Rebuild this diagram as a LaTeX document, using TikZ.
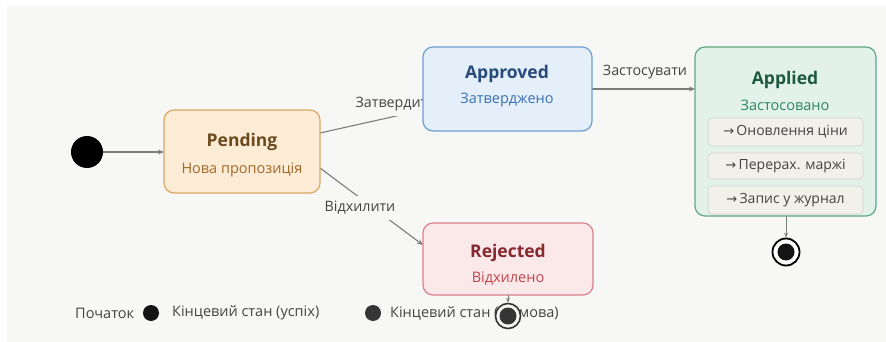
\documentclass[tikz,border=0pt]{standalone}
\usepackage{fontspec}
\setmainfont{Open Sans}
\newfontfamily\symfont{DejaVu Sans}
\usetikzlibrary{arrows.meta}

\definecolor{canvas}{HTML}{F7F7F5}
\definecolor{edgegrey}{HTML}{7C7C7C}
\definecolor{labelgrey}{HTML}{444444}
\definecolor{penfill}{HTML}{FCEBD5}
\definecolor{penline}{HTML}{D9A865}
\definecolor{pentitle}{HTML}{6B4A1F}
\definecolor{pensub}{HTML}{A0692A}
\definecolor{appfill}{HTML}{E5EFFA}
\definecolor{appline}{HTML}{6D9FD6}
\definecolor{apptitle}{HTML}{274A7A}
\definecolor{appsub}{HTML}{3B71B5}
\definecolor{dnfill}{HTML}{E2F2EA}
\definecolor{dnline}{HTML}{5EA886}
\definecolor{dntitle}{HTML}{1D5A3D}
\definecolor{dnsub}{HTML}{2B8462}
\definecolor{actfill}{HTML}{F1F0EB}
\definecolor{actline}{HTML}{DDDCD5}
\definecolor{rejfill}{HTML}{FBE8E9}
\definecolor{rejline}{HTML}{D9808A}
\definecolor{rejtitle}{HTML}{86282E}
\definecolor{rejsub}{HTML}{C2454F}
\definecolor{failgrey}{HTML}{353535}

\newcommand{\actarrow}{{\symfont\fontsize{13}{15}\selectfont →}\,}

\begin{document}
\begin{tikzpicture}[x=1pt,y=-1pt,
  title/.style={font=\bfseries\fontsize{17.5}{20}\selectfont, inner sep=0pt},
  subtitle/.style={font=\fontsize{14.5}{17}\selectfont, inner sep=0pt},
  actbox/.style={draw=actline, fill=actfill, line width=1pt, rounded corners=4pt,
    font=\fontsize{14}{16}\selectfont, text=labelgrey, inner sep=0pt, minimum width=155pt},
  flow/.style={draw=edgegrey, line width=1.1pt, -{Stealth[length=6pt,width=5pt]}},
  edgelabel/.style={fill=canvas, text=labelgrey, font=\fontsize{14.3}{16}\selectfont,
    inner xsep=3pt, inner ysep=5pt},
  legendtext/.style={text=labelgrey, font=\fontsize{14.5}{16}\selectfont, inner sep=0pt, anchor=west}]

\useasboundingbox (0,0) rectangle (886,342);
\fill[white] (0,0) rectangle (886,342);
\fill[canvas] (7,6) rectangle (886,342);

% corner coordinates of the state boxes
\coordinate (penNW) at (164,110); \coordinate (penSE) at (320,193);
\coordinate (appNW) at (423,47);  \coordinate (appSE) at (592,131);
\coordinate (dnNW) at (695,47);   \coordinate (dnSE) at (876,216);
\coordinate (rejNW) at (423,223); \coordinate (rejSE) at (593,295);

% initial pseudo-state
\node[circle, fill=black, minimum size=32pt, inner sep=0pt] (start) at (87,152) {};

% transitions (drawn beneath the states)
\coordinate (penA) at (320,133);
\coordinate (appIn) at (423,110);
\coordinate (penR) at (320,168);
\coordinate (rejIn) at (423,245);
\coordinate (appOut) at (592,89);
\coordinate (dnIn) at (695,89);
\draw[flow] (start) -- (164,152) coordinate (penIn);
\draw[flow] (penA) -- (appIn);
\draw[flow] (penR) -- (rejIn);
\draw[flow] (appOut) -- (dnIn);

\node[edgelabel] (lblApprove) at (396,104) {Затвердити};
\node[edgelabel] (lblReject) at (360,208) {Відхилити};
\node[text=labelgrey, font=\fontsize{14.3}{16}\selectfont, inner sep=0pt] (lblApply) at (645,72) {Застосувати};

% states
\filldraw[draw=penline, fill=penfill, line width=1.2pt, rounded corners=10pt] (penNW) rectangle (penSE);
\filldraw[draw=appline, fill=appfill, line width=1.2pt, rounded corners=10pt] (appNW) rectangle (appSE);
\filldraw[draw=dnline, fill=dnfill, line width=1.2pt, rounded corners=10pt] (dnNW) rectangle (dnSE);
\filldraw[draw=rejline, fill=rejfill, line width=1.2pt, rounded corners=10pt] (rejNW) rectangle (rejSE);

\node[title, text=pentitle] (penT) at (242,142) {Pending};
\node[subtitle, text=pensub] (penS) at (242,170) {Нова пропозиція};
\node[title, text=apptitle] (appT) at (507,74) {Approved};
\node[subtitle, text=appsub] (appS) at (507,100) {Затверджено};
\node[title, text=dntitle] (dnT) at (785,80) {Applied};
\node[subtitle, text=dnsub] (dnS) at (785,105) {Застосовано};
\node[title, text=rejtitle] (rejT) at (508,253) {Rejected};
\node[subtitle, text=rejsub] (rejS) at (508,279) {Відхилено};

% entry actions of the Applied state
\node[actbox, minimum height=28pt] (act1) at (785.5,132) {\actarrow Оновлення ціни};
\node[actbox, minimum height=26pt] (act2) at (785.5,166) {\actarrow Перерах. маржі};
\node[actbox, minimum height=28pt] (act3) at (785.5,200) {\actarrow Запис у журнал};

% legend
\node[legendtext] (lgStart) at (75,313) {Початок};
\node[circle, fill=black!92, minimum size=16pt, inner sep=0pt] (lgDot1) at (151,313) {};
\node[legendtext] (lgOk) at (172,313) {Кінцевий стан (успіх)};
\node[circle, fill=failgrey, minimum size=16pt, inner sep=0pt] (lgDot2) at (373,313) {};
\node[legendtext] (lgFail) at (390,313) {Кінцевий стан (відмова)};

% final states
\node[circle, draw=black, line width=1.8pt, fill=white, minimum size=27pt, inner sep=0pt] (endOk) at (786,252) {};
\fill[black!92] (endOk.center) circle (8.5);
\node[circle, draw=failgrey, line width=1.6pt, fill=canvas, minimum size=25pt, inner sep=0pt] (endFail) at (508,316) {};
\fill[failgrey] (endFail.center) circle (8.5);

\coordinate (dnOut) at (786,216);
\coordinate (rejOut) at (508,295);
\draw[flow, line width=1pt, -{Stealth[length=5pt,width=4pt]}] (dnOut) -- (endOk.north);
\draw[flow, line width=1pt, -{Stealth[length=5pt,width=4pt]}] (rejOut) -- (endFail.north);

\end{tikzpicture}
\end{document}
